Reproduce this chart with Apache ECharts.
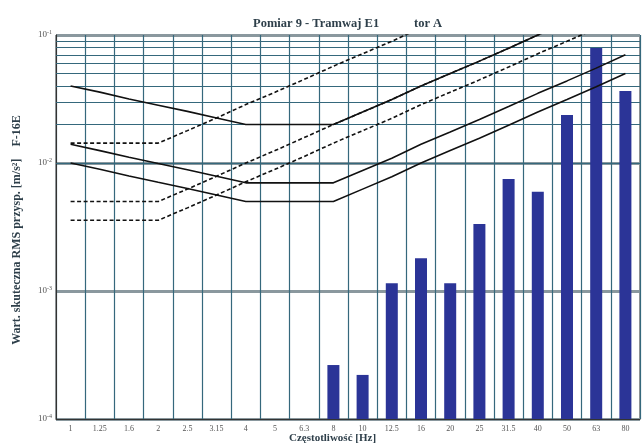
<!DOCTYPE html>
<html><head><meta charset="utf-8">
<script src="https://cdn.jsdelivr.net/npm/echarts@6/dist/echarts.min.js"></script>
<style>html,body{margin:0;padding:0;background:#fff}#c{width:644px;height:448px}</style>
</head><body><div id="c"></div>
<script>
const freqLabels = ['1','1.25','1.6','2','2.5','3.15','4','5','6.3','8','10','12.5','16','20','25','31.5','40','50','63','80'];
const barValues = [null,null,null,null,null,null,null,null,null,0.000264,0.000221,0.00115,0.00180,0.00115,0.00334,0.0075,0.00597,0.0237,0.0791,0.0365];
const zCurve1  = [0.01,0.00894,0.00791,0.00707,0.00632,0.00563,0.005,0.005,0.005,0.005,0.00625,0.00781,0.01,0.0125,0.0156,0.0197,0.025,0.0313,0.0394,0.05];
const zCurve14 = [0.014,0.0125,0.0111,0.0099,0.00885,0.00789,0.007,0.007,0.007,0.007,0.00875,0.0109,0.014,0.0175,0.0219,0.0276,0.035,0.0438,0.0551,0.07];
const zCurve4  = [0.04,0.0358,0.0316,0.0283,0.0253,0.0225,0.02,0.02,0.02,0.02,0.025,0.0313,0.04,0.05,0.0625,0.0787,0.1,0.125,0.158,0.2];
const xyCurve1  = [0.00357,0.00357,0.00357,0.00357,0.00446,0.00562,0.00714,0.00893,0.01125,0.0143,0.0179,0.0223,0.0286,0.0357,0.0446,0.0562,0.0714,0.0893,0.1125,0.143];
const xyCurve14 = [0.005,0.005,0.005,0.005,0.00625,0.00788,0.01,0.0125,0.0158,0.02,0.025,0.0313,0.04,0.05,0.0625,0.0788,0.1,0.125,0.158,0.2];
const xyCurve4  = [0.0143,0.0143,0.0143,0.0143,0.0179,0.0225,0.0286,0.0357,0.045,0.0571,0.0714,0.0893,0.114,0.143,0.179,0.225,0.286,0.357,0.45,0.571];

const minorGrid = [];
[1e-4,1e-3,1e-2].forEach(d=>{for(let k=2;k<=9;k++) minorGrid.push({yAxis: +(d*k).toPrecision(3)});});

const serif = 'Liberation Serif';
const gridColor = '#35687c';
const chart = echarts.init(document.getElementById('c'), null, {renderer:'canvas'});
const lineS = (data, dashed) => ({
  type:'line', data, xAxisIndex:0, yAxisIndex:0, symbol:'none', silent:true, z:5, clip:true,
  lineStyle:{color:'#111', width:1.6, type: dashed ? [4,2.5] : 'solid'}
});
chart.setOption({
  animation:false,
  grid:{left:56, right:4, top:35, bottom:29, show:true, borderColor:'#333', borderWidth:1},
  graphic:[
    {type:'text', left:253, top:17, style:{text:'Pomiar 9 - Tramwaj E1', font:'bold 12.5px "Liberation Serif"', fill:'#2e3f4a'}},
    {type:'text', left:414, top:17, style:{text:'tor A', font:'bold 12.5px "Liberation Serif"', fill:'#2e3f4a'}},
    {type:'text', left:289, top:433, style:{text:'Częstotliwość [Hz]', font:'bold 11px "Liberation Serif"', fill:'#2e3f4a'}},
    {type:'text', x:17, y:230, rotation:Math.PI/2, style:{text:'Wart. skuteczna RMS przysp. [m/s²]    F-16E', font:'bold 12px "Liberation Serif"', fill:'#2e3f4a', align:'center', verticalAlign:'middle'}}
  ],
  xAxis:[
    {type:'category', data:freqLabels, boundaryGap:true,
     axisLine:{show:true, lineStyle:{color:'#333'}}, axisTick:{show:false},
     axisLabel:{fontSize:8, color:'#555', fontFamily:serif, margin:6, interval:0},
     splitLine:{show:false}},
    {type:'value', min:-0.5, max:19.5, interval:1, position:'bottom',
     axisLine:{show:false}, axisTick:{show:false}, axisLabel:{show:false},
     splitLine:{show:true, lineStyle:{color:gridColor, width:1.2}}}
  ],
  yAxis:{type:'log', logBase:10, min:1e-4, max:1e-1, startValue:1e-4,
    axisLine:{show:true, onZero:false, lineStyle:{color:'#333'}}, axisTick:{show:false},
    axisLabel:{margin:4, formatter:v=>{const e=Math.round(Math.log10(v));return '{b|10}{s|'+e+'}';},
      rich:{b:{fontSize:9, color:'#555', fontFamily:serif}, s:{fontSize:6, color:'#555', fontFamily:serif, verticalAlign:'top', padding:[0,0,6,0]}}},
    splitLine:{show:true, lineStyle:{color:'#8a989e', width:3}}
  },
  series:[
    {type:'bar', data:barValues, xAxisIndex:0, barWidth:12, itemStyle:{color:'#2b3497'}, z:4,
     markLine:{silent:true, symbol:'none', label:{show:false}, z:1,
       lineStyle:{color:gridColor, width:1.2, type:'solid'}, data:minorGrid}},
    lineS(zCurve1,false), lineS(zCurve14,false), lineS(zCurve4,false),
    lineS(xyCurve1,true), lineS(xyCurve14,true), lineS(xyCurve4,true)
  ]
});
</script></body></html>
